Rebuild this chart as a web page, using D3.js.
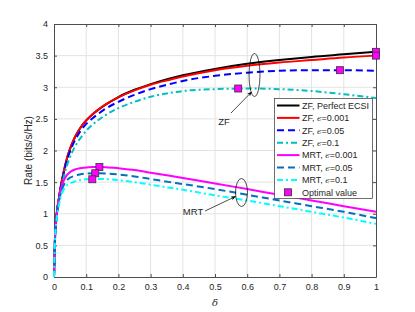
<!DOCTYPE html>
<html lang="en">
<head>
<meta charset="UTF-8">
<title>Rate vs delta</title>
<script src="https://cdn.jsdelivr.net/npm/d3@7"></script>
<style>
  body { margin: 0; background: #fff; }
  svg { display: block; font-family: "Liberation Sans", Arial, sans-serif; }
</style>
</head>
<body>
<svg id="chart" width="415" height="312"></svg>
<script>
// delta grid points
const delta = [0, 0.003, 0.008, 0.015, 0.02, 0.03, 0.04, 0.05, 0.065, 0.08, 0.1, 0.12, 0.14, 0.16, 0.2, 0.25, 0.3, 0.36, 0.4, 0.5, 0.6, 0.7, 0.8, 0.9, 1.0]

const zfPerfect = [0, 0.6, 0.98, 1.24, 1.40, 1.66, 1.87, 2.03, 2.21, 2.345, 2.475, 2.575, 2.655, 2.725, 2.845, 2.96, 3.05, 3.14, 3.19, 3.29, 3.37, 3.43, 3.48, 3.52, 3.56]
const zf001 = [0, 0.6, 0.98, 1.24, 1.40, 1.66, 1.87, 2.03, 2.21, 2.345, 2.475, 2.575, 2.655, 2.725, 2.84, 2.95, 3.04, 3.12, 3.17, 3.27, 3.34, 3.39, 3.43, 3.47, 3.50]
const zf005 = [0, 0.59, 0.96, 1.22, 1.38, 1.63, 1.84, 1.99, 2.16, 2.29, 2.42, 2.51, 2.59, 2.66, 2.77, 2.88, 2.97, 3.05, 3.10, 3.18, 3.23, 3.26, 3.27, 3.27, 3.26]
const zf01 = [0, 0.57, 0.93, 1.18, 1.33, 1.57, 1.76, 1.90, 2.06, 2.18, 2.31, 2.41, 2.49, 2.56, 2.67, 2.77, 2.85, 2.91, 2.94, 2.97, 2.98, 2.97, 2.94, 2.89, 2.83]
const mrt001 = [0, 0.60, 0.97, 1.22, 1.36, 1.52, 1.61, 1.66, 1.70, 1.72, 1.73, 1.74, 1.74, 1.737, 1.72, 1.69, 1.65, 1.60, 1.565, 1.48, 1.39, 1.30, 1.21, 1.12, 1.03]
const mrt005 = [0, 0.58, 0.94, 1.18, 1.30, 1.45, 1.53, 1.57, 1.60, 1.62, 1.635, 1.64, 1.64, 1.637, 1.62, 1.59, 1.55, 1.50, 1.47, 1.39, 1.30, 1.21, 1.12, 1.03, 0.93]
const mrt01 = [0, 0.56, 0.90, 1.12, 1.25, 1.38, 1.45, 1.48, 1.51, 1.53, 1.545, 1.55, 1.55, 1.547, 1.53, 1.50, 1.46, 1.41, 1.38, 1.29, 1.21, 1.12, 1.03, 0.94, 0.84]

// optimal points (delta, rate)
const optDelta = [1, 1, 0.888, 0.572, 0.141, 0.128, 0.119]
const optRate = [3.56, 3.50, 3.27, 2.98, 1.74, 1.64, 1.545]

const xTicks = [0, 0.1, 0.2, 0.3, 0.4, 0.5, 0.6, 0.7, 0.8, 0.9, 1]
const yTicks = [0, 0.5, 1, 1.5, 2, 2.5, 3, 3.5, 4]

const series = [
  { name: 'ZF, Perfect ECSI', eps: null, values: zfPerfect, color: '#000000', dash: null },
  { name: 'ZF, ', eps: '=0.001', values: zf001, color: '#ff0000', dash: null },
  { name: 'ZF, ', eps: '=0.05', values: zf005, color: '#0000ff', dash: '7,4' },
  { name: 'ZF, ', eps: '=0.1', values: zf01, color: '#00bfbf', dash: '6,3,2,3' },
  { name: 'MRT, ', eps: '=0.001', values: mrt001, color: '#ff00ff', dash: null },
  { name: 'MRT, ', eps: '=0.05', values: mrt005, color: '#0072bd', dash: '7,4' },
  { name: 'MRT, ', eps: '=0.1', values: mrt01, color: '#00ffff', dash: '6,3,2,3' }
]

const svg = d3.select('#chart')
const mLeft = 54, mRight = 376, mTop = 24, mBottom = 277

const x = d3.scaleLinear().domain([0, 1]).range([mLeft, mRight])
const y = d3.scaleLinear().domain([0, 4]).range([mBottom, mTop])

// grid
svg.append('g').selectAll('line').data(xTicks.slice(1, -1)).join('line')
  .attr('x1', d => x(d)).attr('x2', d => x(d))
  .attr('y1', mTop).attr('y2', mBottom)
  .attr('stroke', '#e3e3e3').attr('stroke-width', 1)
svg.append('g').selectAll('line').data(yTicks.slice(1, -1)).join('line')
  .attr('y1', d => y(d)).attr('y2', d => y(d))
  .attr('x1', mLeft).attr('x2', mRight)
  .attr('stroke', '#e3e3e3').attr('stroke-width', 1)

// axes (ticks inside, box on)
const axisColor = '#4d4d4d'
const fmt = d => d3.format('')(d)
const styleAxis = g => {
  g.select('.domain').attr('stroke', axisColor)
  g.selectAll('.tick line').attr('stroke', axisColor)
  g.selectAll('.tick text').attr('fill', '#262626').attr('font-size', 9)
}
svg.append('g').attr('transform', `translate(0,${mBottom})`)
  .call(d3.axisBottom(x).tickValues(xTicks).tickFormat(fmt).tickSizeInner(-3).tickSizeOuter(0).tickPadding(7))
  .call(styleAxis)
svg.append('g').attr('transform', `translate(0,${mTop})`)
  .call(d3.axisTop(x).tickValues(xTicks).tickFormat('').tickSizeInner(-3).tickSizeOuter(0))
  .call(styleAxis)
svg.append('g').attr('transform', `translate(${mLeft},0)`)
  .call(d3.axisLeft(y).tickValues(yTicks).tickFormat(fmt).tickSizeInner(-3).tickSizeOuter(0).tickPadding(6))
  .call(styleAxis)
svg.append('g').attr('transform', `translate(${mRight},0)`)
  .call(d3.axisRight(y).tickValues(yTicks).tickFormat('').tickSizeInner(-3).tickSizeOuter(0))
  .call(styleAxis)

// axis labels
svg.append('text')
  .attr('transform', `translate(28,${(mTop + mBottom) / 2}) rotate(-90)`)
  .attr('text-anchor', 'middle').attr('dominant-baseline', 'central')
  .attr('font-size', 10).attr('fill', '#262626')
  .text('Rate (bits/s/Hz)')
svg.append('text')
  .attr('x', (mLeft + mRight) / 2).attr('y', 306)
  .attr('text-anchor', 'middle').attr('font-size', 10).attr('font-style', 'italic')
  .attr('font-family', '"DejaVu Serif", serif').attr('fill', '#262626')
  .text('δ')

// curves
const line = d3.line()
  .x((d, i) => x(delta[i]))
  .y(d => y(d))
  .curve(d3.curveMonotoneX)

const plot = svg.append('g')
plot.selectAll('path').data(series).join('path')
  .attr('d', d => line(d.values))
  .attr('fill', 'none')
  .attr('stroke', d => d.color)
  .attr('stroke-width', 2)
  .attr('stroke-dasharray', d => d.dash)

// optimal markers
svg.append('g').selectAll('rect').data(optDelta).join('rect')
  .attr('x', (d, i) => x(d) - 3.5)
  .attr('y', (d, i) => y(optRate[i]) - 3.5)
  .attr('width', 7).attr('height', 7)
  .attr('fill', '#ff00ff').attr('stroke', '#333').attr('stroke-width', 0.8)

// annotations: ellipses + arrows
svg.append('defs').append('marker')
  .attr('id', 'arrow').attr('viewBox', '0 0 10 10')
  .attr('refX', 9).attr('refY', 5)
  .attr('markerWidth', 7).attr('markerHeight', 7)
  .attr('orient', 'auto')
  .append('path').attr('d', 'M0,1 L10,5 L0,9 L3,5 Z').attr('fill', '#000')

svg.append('ellipse')
  .attr('cx', 254.5).attr('cy', 75).attr('rx', 5.5).attr('ry', 21.5)
  .attr('fill', 'none').attr('stroke', '#000').attr('stroke-width', 0.7)
svg.append('line')
  .attr('x1', 231).attr('y1', 113).attr('x2', 251.5).attr('y2', 92)
  .attr('stroke', '#000').attr('stroke-width', 0.7).attr('marker-end', 'url(#arrow)')
svg.append('text').attr('x', 224).attr('y', 125).attr('text-anchor', 'middle')
  .attr('font-size', 9.5).attr('fill', '#262626').text('ZF')

svg.append('ellipse')
  .attr('cx', 241.5).attr('cy', 192.5).attr('rx', 6).attr('ry', 14)
  .attr('fill', 'none').attr('stroke', '#000').attr('stroke-width', 0.7)
svg.append('line')
  .attr('x1', 205).attr('y1', 211).attr('x2', 235.5).attr('y2', 196.5)
  .attr('stroke', '#000').attr('stroke-width', 0.7).attr('marker-end', 'url(#arrow)')
svg.append('text').attr('x', 193).attr('y', 215).attr('text-anchor', 'middle')
  .attr('font-size', 9.5).attr('fill', '#262626').text('MRT')

// legend
const lg = svg.append('g')
lg.append('rect')
  .attr('x', 274.5).attr('y', 98.5).attr('width', 98).attr('height', 100)
  .attr('fill', '#fff').attr('stroke', '#333').attr('stroke-width', 0.7)
const rowY = i => 105.5 + i * 12.4
series.forEach((s, i) => {
  lg.append('line')
    .attr('x1', 277).attr('x2', 299.5).attr('y1', rowY(i)).attr('y2', rowY(i))
    .attr('stroke', s.color).attr('stroke-width', 2).attr('stroke-dasharray', s.dash)
  const t = lg.append('text').attr('x', 302).attr('y', rowY(i) + 3.2)
    .attr('font-size', 9).attr('fill', '#262626')
  t.append('tspan').text(s.name)
  if (s.eps) {
    t.append('tspan').attr('font-style', 'italic').attr('font-family', '"DejaVu Serif", serif').attr('font-size', 8).text('ϵ')
    t.append('tspan').text(s.eps)
  }
})
lg.append('rect')
  .attr('x', 284.5).attr('y', rowY(7) - 3.5).attr('width', 7).attr('height', 7)
  .attr('fill', '#ff00ff').attr('stroke', '#333').attr('stroke-width', 0.8)
lg.append('text').attr('x', 302).attr('y', rowY(7) + 3.2)
  .attr('font-size', 9).attr('fill', '#262626').text('Optimal value')
</script>
</body>
</html>
